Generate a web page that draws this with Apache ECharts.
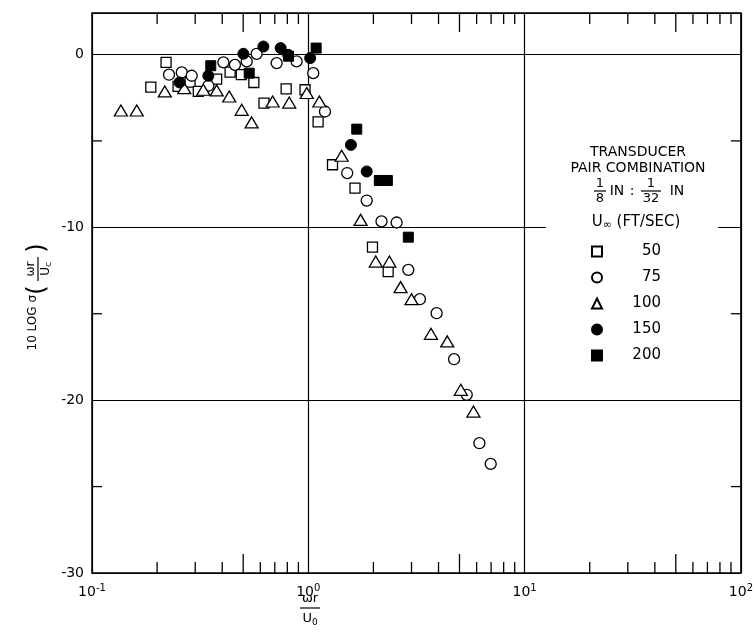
<!DOCTYPE html>
<html>
<head>
<meta charset="utf-8">
<script src="https://cdn.jsdelivr.net/npm/echarts@6/dist/echarts.min.js"></script>
<style>
  html, body { margin: 0; padding: 0; background: #fff; }
  #main { width: 756px; height: 642px; }
</style>
</head>
<body>
<div id="main"></div>
<script>
// values: [wr/U0, 10 log sigma]
var u50 = [[0.22,-0.46],[0.187,-1.89],[0.25,-1.85],[0.284,-1.6],[0.31,-2.14],[0.377,-1.43],[0.435,-1.02],
	[0.49,-1.17],[0.56,-1.62],[0.624,-2.81],[0.79,-1.99],[0.966,-2.04],[1.11,-3.9],[1.294,-6.38],
	[1.644,-7.73],[1.98,-11.15],[2.34,-12.56]];
var u75 = [[0.227,-1.17],[0.26,-1.04],[0.289,-1.23],[0.345,-1.81],[0.405,-0.46],[0.458,-0.6],[0.519,-0.4],
	[0.577,0.04],[0.714,-0.5],[0.883,-0.4],[1.054,-1.08],[1.194,-3.3],[1.513,-6.86],[1.862,-8.45],
	[2.18,-9.66],[2.56,-9.72],[2.9,-12.46],[3.28,-14.16],[3.92,-14.97],[4.72,-17.63],[5.4,-19.69],
	[6.18,-22.49],[6.97,-23.69]];
var u100 = [[0.136,-3.24],[0.161,-3.24],[0.217,-2.14],[0.267,-1.95],[0.327,-2.04],[0.377,-2.08],[0.431,-2.43],
	[0.492,-3.2],[0.547,-3.93],[0.684,-2.72],[0.816,-2.78],[0.984,-2.23],[1.125,-2.72],[1.426,-5.86],
	[1.745,-9.57],[2.05,-11.98],[2.37,-11.98],[2.67,-13.46],[3.0,-14.16],[3.69,-16.16],[4.39,-16.6],
	[5.07,-19.4],[5.8,-20.66]];
var u150 = [[0.254,-1.62],[0.345,-1.23],[0.501,0.04],[0.62,0.46],[0.745,0.37],[0.807,-0.02],[1.02,-0.21],
	[1.574,-5.23],[1.862,-6.77]];
var u200 = [[0.354,-0.65],[0.533,-1.08],[0.81,-0.1],[1.087,0.37],[1.675,-4.32],[2.13,-7.29],[2.32,-7.29],
	[2.9,-10.57]];

var legendNames = ['50', '75', '100', '150', '200'];
var yLabels = [0, -10, -20, -30];
var xMinor = [0.2,0.3,0.4,0.5,0.6,0.7,0.8,0.9, 2,3,4,5,6,7,8,9, 20,30,40,50,60,70,80,90];
var yMinor = [-5, -15, -25];

var X_MIN = 0.1, X_MAX = 100, Y_MIN = -30, Y_MAX = 2.4;
var FONT = 'DejaVu Sans';

var openStyle = { color: '#fff', borderColor: '#000', borderWidth: 1.3, opacity: 1 };
var fillStyle = { color: '#000', borderColor: '#000', borderWidth: 1, opacity: 1 };

function scatter(name, data, symbol, size, style) {
	return {
		name: name, type: 'scatter', data: data, symbol: symbol, symbolSize: size,
		itemStyle: style, z: 5, emphasis: { disabled: true }
	};
}

// minor ticks along top and bottom (the 5s are longer)
var xMinorSeries = {
	type: 'custom', silent: true, clip: false, z: 3,
	data: xMinor.map(function(v){ return [v, 0]; }),
	renderItem: function(params, api) {
		var v = api.value(0);
		var p = api.coord([v, 0]);
		var top = params.coordSys.y, bottom = top + params.coordSys.height;
		var lead = Math.round(v / Math.pow(10, Math.floor(Math.log10(v) + 1e-9)));
		var len = lead === 5 ? 19 : 11;
		var st = { stroke: '#000', lineWidth: 1.3 };
		return { type: 'group', children: [
			{ type: 'line', shape: { x1: p[0], y1: bottom, x2: p[0], y2: bottom - len }, style: st },
			{ type: 'line', shape: { x1: p[0], y1: top, x2: p[0], y2: top + len }, style: st }
		]};
	}
};
var yMinorSeries = {
	type: 'custom', silent: true, clip: false, z: 3,
	data: yMinor.map(function(v){ return [1, v]; }),
	renderItem: function(params, api) {
		var p = api.coord([1, api.value(1)]);
		var left = params.coordSys.x, right = left + params.coordSys.width;
		var st = { stroke: '#000', lineWidth: 1.3 };
		return { type: 'group', children: [
			{ type: 'line', shape: { x1: left, y1: p[1], x2: left + 10, y2: p[1] }, style: st },
			{ type: 'line', shape: { x1: right, y1: p[1], x2: right - 10, y2: p[1] }, style: st }
		]};
	}
};

function txt(text, x, y, size, align, extra) {
	var s = { text: text, x: x, y: y, fill: '#000', fontSize: size, fontFamily: FONT,
		align: align || 'center', verticalAlign: 'middle' };
	if (extra) for (var k in extra) s[k] = extra[k];
	return { type: 'text', style: s, z: 60 };
}
function hline(x1, x2, y) {
	return { type: 'line', shape: { x1: x1, y1: y, x2: x2, y2: y }, style: { stroke: '#000', lineWidth: 1.2 }, z: 60 };
}

var graphics = [
	// break in the -10 grid line behind the legend heading
	{ type: 'rect', shape: { x: 546, y: 218, width: 172, height: 12 }, style: { fill: '#fff' }, z: 50 },
	txt('TRANSDUCER', 638, 152, 14),
	txt('PAIR COMBINATION', 638, 168, 14),
	// 1/8 IN : 1/32 IN
	txt('1', 600, 184, 13), hline(594, 606, 191), txt('8', 600, 199, 13),
	txt('IN', 617, 191, 14),
	txt(':', 632, 191, 14),
	txt('1', 651, 184, 13), hline(641, 661, 191), txt('32', 651, 199, 13),
	txt('IN', 677, 191, 14),
	txt('{u|U}{s|∞} (FT/SEC)', 636, 222, 15, 'center', {
		rich: { u: { fontSize: 15, fontFamily: FONT }, s: { fontSize: 11, fontFamily: FONT, padding: [6, 0, 0, 0] } }
	}),
	// x axis name wr / U0
	txt('ωr', 310, 599, 13), hline(300, 320, 608), txt('{u|U}{s|0}', 310, 619, 13, 'center', {
		rich: { u: { fontSize: 13, fontFamily: FONT }, s: { fontSize: 9, fontFamily: FONT, padding: [7, 0, 0, 0] } }
	}),
	// y axis name, rotated
	{
		type: 'group', x: 38, y: 298, rotation: Math.PI / 2, z: 60,
		children: [
			txt('10 LOG σ', 3, -5, 12, 'right'),
			txt('(', 8, 0, 24, 'center'),
			txt('ωr', 29, -7, 12),
			hline(17, 41, 0),
			txt('{u|U}{s|c}', 29, 8, 12, 'center', {
				rich: { u: { fontSize: 12, fontFamily: FONT }, s: { fontSize: 9, fontFamily: FONT, padding: [6, 0, 0, 0] } }
			}),
			txt(')', 50, 0, 24, 'center')
		]
	}
];

var chart = echarts.init(document.getElementById('main'), null, { renderer: 'canvas' });
chart.setOption({
	animation: false,
	backgroundColor: '#fff',
	grid: { left: 92, right: 15, top: 13, bottom: 69, show: true, borderColor: '#000', borderWidth: 1.5, backgroundColor: 'transparent' },
	xAxis: {
		type: 'log', logBase: 10, min: X_MIN, max: X_MAX,
		axisLine: { show: false }, axisTick: { show: false },
		splitLine: { show: true, lineStyle: { color: '#000', width: 1.2 } },
		axisLabel: {
			margin: 10, color: '#000',
			formatter: function(v) {
				var e = Math.round(Math.log10(v));
				return '{b|10}{s|' + e + '}';
			},
			rich: {
				b: { fontSize: 14, fontFamily: FONT, color: '#000' },
				s: { fontSize: 10, fontFamily: FONT, color: '#000', padding: [0, 0, 9, 0] }
			}
		}
	},
	yAxis: {
		type: 'value', min: Y_MIN, max: Y_MAX, interval: 10,
		axisLine: { show: false }, axisTick: { show: false },
		splitLine: { show: true, lineStyle: { color: '#000', width: 1.2 } },
		axisLabel: {
			margin: 8, color: '#000', fontSize: 14, fontFamily: FONT, showMaxLabel: false,
			formatter: function(v) { return yLabels.indexOf(v) >= 0 ? String(v) : ''; }
		}
	},
	legend: {
		data: legendNames, orient: 'vertical', left: 591, top: 244, padding: 0,
		itemWidth: 10, itemHeight: 10, itemGap: 11, selectedMode: false,
		formatter: function(n) { return '{n|' + n + '}'; },
		textStyle: { rich: { n: { width: 54, align: 'right', fontSize: 15, lineHeight: 16, fontFamily: FONT, color: '#000' } } }
	},
	series: [
		scatter('50', u50, 'rect', 10, openStyle),
		scatter('75', u75, 'circle', 11, openStyle),
		scatter('100', u100, 'triangle', [13, 11], openStyle),
		scatter('150', u150, 'circle', 11, fillStyle),
		scatter('200', u200, 'rect', 10, fillStyle),
		xMinorSeries,
		yMinorSeries
	],
	graphic: graphics
});
</script>
</body>
</html>
